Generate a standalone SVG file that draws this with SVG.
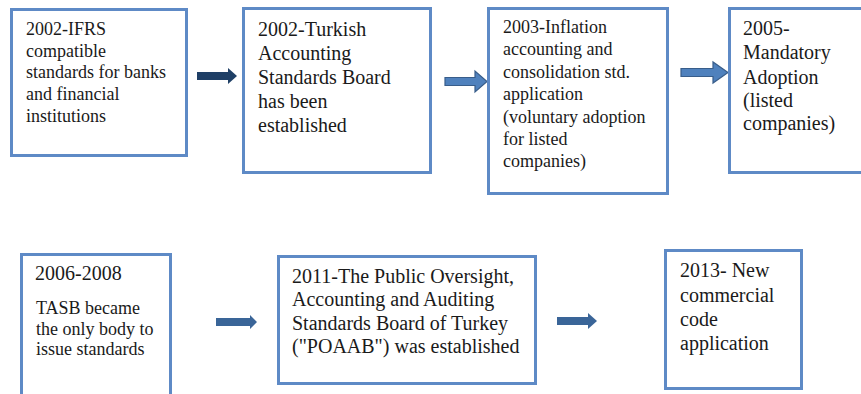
<svg xmlns="http://www.w3.org/2000/svg" width="861" height="394" viewBox="0 0 861 394">
<style>
.box{fill:#ffffff;stroke:#5E8AC6;stroke-width:3}
.t{font-family:'Liberation Serif','DejaVu Serif',serif;fill:#1a1a1a}
.s18{font-size:18px}
.s20{font-size:20px}
.a1{fill:#1F3F66}
.a2{fill:#4F81BD;stroke:#385D8A;stroke-width:1.2}
.a3{fill:#3A6598}
</style>
<rect width="861" height="394" fill="#ffffff"/>
<g id="connectors">
<polygon class="a1" points="197,72 228,72 228,68 237,76 228,84 228,80 197,80"/>
<polygon class="a2" points="445,77.5 475,77.5 475,71 487,81.5 475,92 475,85.5 445,85.5"/>
<polygon class="a2" points="681,68.5 713,68.5 713,62 728,72.5 713,83 713,76.5 681,76.5"/>
<polygon class="a3" points="216,318 250,318 250,315 257,322 250,329 250,326 216,326"/>
<polygon class="a3" points="557,317 588,317 588,313 597,321 588,329 588,325 557,325"/>
</g>
<g id="n1" class="t" font-family="Liberation Serif, serif">
<rect class="box" x="11.5" y="9.5" width="175" height="146"/>
<text class="s18" x="26" y="35">2002-IFRS</text>
<text class="s18" x="26" y="57">compatible</text>
<text class="s18" x="26" y="78">standards for banks</text>
<text class="s18" x="26" y="100">and financial</text>
<text class="s18" x="26" y="122">institutions</text>
</g>
<g id="n2" class="t" font-family="Liberation Serif, serif">
<rect class="box" x="243.5" y="8.5" width="187" height="164"/>
<text class="s20" x="258" y="36">2002-Turkish</text>
<text class="s20" x="258" y="60">Accounting</text>
<text class="s20" x="258" y="84">Standards Board</text>
<text class="s20" x="258" y="108">has been</text>
<text class="s20" x="258" y="132">established</text>
</g>
<g id="n3" class="t" font-family="Liberation Serif, serif">
<rect class="box" x="488.5" y="8.5" width="179" height="185"/>
<text class="s18" x="503" y="33">2003-Inflation</text>
<text class="s18" x="503" y="55">accounting and</text>
<text class="s18" x="503" y="78">consolidation std.</text>
<text class="s18" x="503" y="100">application</text>
<text class="s18" x="503" y="123">(voluntary adoption</text>
<text class="s18" x="503" y="145">for listed</text>
<text class="s18" x="503" y="167">companies)</text>
</g>
<g id="n4" class="t" font-family="Liberation Serif, serif">
<rect class="box" x="729.5" y="8.5" width="140" height="164"/>
<text class="s20" x="743" y="35">2005-</text>
<text class="s20" x="743" y="59">Mandatory</text>
<text class="s20" x="743" y="84">Adoption</text>
<text class="s20" x="743" y="107">(listed</text>
<text class="s20" x="743" y="130">companies)</text>
</g>
<g id="n5" class="t" font-family="Liberation Serif, serif">
<rect class="box" x="21.5" y="254.5" width="149" height="150"/>
<text class="s20" x="35" y="280">2006-2008</text>
<text class="s18" x="36" y="314">TASB became</text>
<text class="s18" x="36" y="335">the only body to</text>
<text class="s18" x="36" y="355">issue standards</text>
</g>
<g id="n6" class="t" font-family="Liberation Serif, serif">
<rect class="box" x="278.5" y="256.5" width="257" height="127"/>
<text class="s20" x="292" y="283">2011-The Public Oversight,</text>
<text class="s20" x="292" y="306">Accounting and Auditing</text>
<text class="s20" x="292" y="330">Standards Board of Turkey</text>
<text class="s20" x="292" y="353">("POAAB") was established</text>
</g>
<g id="n7" class="t" font-family="Liberation Serif, serif">
<rect class="box" x="665.5" y="250.5" width="136" height="138"/>
<text class="s20" x="680" y="277">2013- New</text>
<text class="s20" x="680" y="302">commercial</text>
<text class="s20" x="680" y="326">code</text>
<text class="s20" x="680" y="350">application</text>
</g>
</svg>
